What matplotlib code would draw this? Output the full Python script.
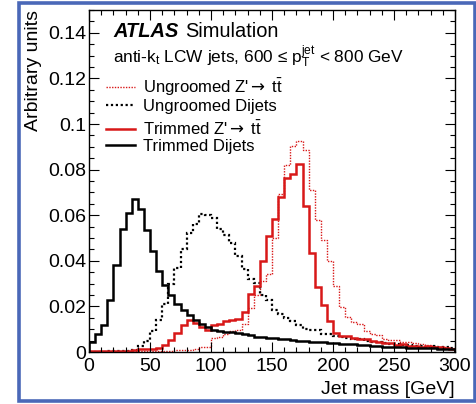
import numpy as np
import matplotlib
matplotlib.use('Agg')
import matplotlib.pyplot as plt
from matplotlib.lines import Line2D
from matplotlib.patches import Rectangle
from matplotlib.ticker import MultipleLocator, FormatStrFormatter

plt.rcParams['font.family'] = ['Liberation Sans', 'DejaVu Sans']
plt.rcParams['mathtext.fontset'] = 'custom'
plt.rcParams['mathtext.rm'] = 'Liberation Sans'
plt.rcParams['mathtext.it'] = 'Liberation Sans:italic'
plt.rcParams['mathtext.bf'] = 'Liberation Sans:bold'
plt.rcParams['mathtext.sf'] = 'DejaVu Sans'

# jet mass histograms, 5 GeV bins from 0 to 300 GeV
bin_width = 5
mass_edges = np.arange(0, 300 + bin_width, bin_width)

trim_dijet = [0.0044, 0.0078, 0.0120, 0.0227, 0.0383, 0.0540, 0.0610, 0.0670, 0.0629, 0.0534,
              0.0443, 0.0355, 0.0295, 0.0249, 0.0212, 0.0183, 0.0161, 0.0142, 0.0124, 0.0110,
              0.0098, 0.0091, 0.0088, 0.0088, 0.0085, 0.0080, 0.0073, 0.0068, 0.0064, 0.0062,
              0.0060, 0.0058, 0.0057, 0.0054, 0.0050, 0.0048, 0.0046, 0.0043, 0.0044, 0.0040,
              0.0038, 0.0036, 0.0036, 0.0033, 0.0032, 0.0030, 0.0028, 0.0026, 0.0024, 0.0023,
              0.0021, 0.0020, 0.0019, 0.0018, 0.0017, 0.0016, 0.0016, 0.0015, 0.0014, 0.0013]

ungr_dijet = [0.0002, 0.0002, 0.0002, 0.0003, 0.0003, 0.0004, 0.0005, 0.0010, 0.0025, 0.0050,
              0.0090, 0.0139, 0.0210, 0.0300, 0.0370, 0.0453, 0.0520, 0.0560, 0.0607, 0.0600,
              0.0588, 0.0540, 0.0515, 0.0478, 0.0420, 0.0362, 0.0320, 0.0302, 0.0252, 0.0226,
              0.0185, 0.0168, 0.0148, 0.0138, 0.0118, 0.0100, 0.0098, 0.0095, 0.0078, 0.0078,
              0.0072, 0.0064, 0.0060, 0.0055, 0.0058, 0.0050, 0.0046, 0.0042, 0.0038, 0.0034,
              0.0036, 0.0030, 0.0032, 0.0028, 0.0026, 0.0024, 0.0027, 0.0022, 0.0024, 0.0018]

trim_zp = [0.0003, 0.0003, 0.0003, 0.0003, 0.0004, 0.0005, 0.0006, 0.0008, 0.0012, 0.0015,
           0.0012, 0.0019, 0.0029, 0.0051, 0.0083, 0.0117, 0.0142, 0.0127, 0.0110, 0.0095,
           0.0120, 0.0124, 0.0137, 0.0139, 0.0145, 0.0175, 0.0253, 0.0290, 0.0400, 0.0510,
           0.0585, 0.0680, 0.0765, 0.0780, 0.0826, 0.0639, 0.0436, 0.0285, 0.0208, 0.0135,
           0.0085, 0.0070, 0.0070, 0.0062, 0.0058, 0.0055, 0.0050, 0.0045, 0.0040, 0.0038,
           0.0032, 0.0033, 0.0028, 0.0025, 0.0021, 0.0025, 0.0022, 0.0020, 0.0017, 0.0015]

ungr_zp = [0.0001, 0.0001, 0.0001, 0.0001, 0.0002, 0.0002, 0.0002, 0.0003, 0.0003, 0.0004,
           0.0004, 0.0005, 0.0005, 0.0006, 0.0007, 0.0008, 0.0009, 0.0013, 0.0020, 0.0022,
           0.0060, 0.0066, 0.0080, 0.0092, 0.0098, 0.0125, 0.0195, 0.0252, 0.0310, 0.0340,
           0.0500, 0.0695, 0.0820, 0.0905, 0.0926, 0.0885, 0.0709, 0.0578, 0.0490, 0.0398,
           0.0290, 0.0197, 0.0154, 0.0132, 0.0122, 0.0092, 0.0080, 0.0075, 0.0055, 0.0052,
           0.0052, 0.0046, 0.0045, 0.0038, 0.0036, 0.0030, 0.0025, 0.0022, 0.0020, 0.0018]

labels = ["Ungroomed Z'$\\mathsf{\\rightarrow}$ t$\\bar{\\rm t}$", "Ungroomed Dijets",
          "Trimmed Z'$\\mathsf{\\rightarrow}$ t$\\bar{\\rm t}$", "Trimmed Dijets"]

red = '#d81818'
styles = [dict(color=red, lw=1.0, ls=(0, (1, 1))),
          dict(color='black', lw=1.6, ls=(0, (1, 1.2))),
          dict(color=red, lw=1.8, ls='-'),
          dict(color='black', lw=1.8, ls='-')]

fig = plt.figure(figsize=(4.77, 4.04), dpi=100)
ax = fig.add_axes([0.1866, 0.1287, 0.7673, 0.8465])

for vals, st in zip([ungr_zp, ungr_dijet, trim_zp, trim_dijet], styles):
    ax.stairs(vals, mass_edges, **st)

ax.set_xlim(0, 300)
ax.set_ylim(0, 0.15)
ax.xaxis.set_major_locator(MultipleLocator(50))
ax.xaxis.set_minor_locator(MultipleLocator(10))
ax.yaxis.set_major_locator(MultipleLocator(0.02))
ax.yaxis.set_minor_locator(MultipleLocator(0.005))
ax.yaxis.set_major_formatter(FormatStrFormatter('%g'))
ax.tick_params(which='both', direction='in', top=True, right=True, labelsize=14, width=0.8)
ax.tick_params(which='major', length=7)
ax.tick_params(which='minor', length=3.5)
ax.tick_params(axis='x', pad=4)
ax.tick_params(axis='y', pad=2)
for sp in ax.spines.values():
    sp.set_linewidth(1.0)

ax.set_xlabel('Jet mass [GeV]', fontsize=14, ha='right')
ax.xaxis.set_label_coords(1.0, -0.085)
ax.set_ylabel('Arbitrary units', fontsize=14, ha='right')
ax.yaxis.set_label_coords(-0.128, 1.0)

ax.text(0.0656, 0.936, 'ATLAS', transform=ax.transAxes, fontsize=14.4,
        weight='bold', style='italic', va='center')
ax.text(0.262, 0.936, 'Simulation', transform=ax.transAxes, fontsize=14.4, va='center')
ax.text(0.0656, 0.8626, 'anti-k$_{\\rm t}$ LCW jets, 600 \u2264 ${\\rm p}_{\\rm T}^{\\rm jet}$ < 800 GeV',
        transform=ax.transAxes, fontsize=12.4, va='center')

handles = [Line2D([], [], **st) for st in styles]
leg_kw = dict(loc='upper left', frameon=False, fontsize=12, handlelength=1.75,
              handletextpad=0.45, labelspacing=0.05, borderpad=0, borderaxespad=0)
leg1 = ax.legend(handles[:2], labels[:2], bbox_to_anchor=(0.0464, 0.805), **leg_kw)
ax.add_artist(leg1)
ax.legend(handles[2:], labels[2:], bbox_to_anchor=(0.0464, 0.678), **leg_kw)

fig.add_artist(Rectangle((19 / 477, 3 / 404), 456 / 477, 398 / 404, transform=fig.transFigure,
                         fill=False, edgecolor='#4a68b8', linewidth=2.6))

fig.savefig('out.png', dpi=100)
plt.close(fig)
